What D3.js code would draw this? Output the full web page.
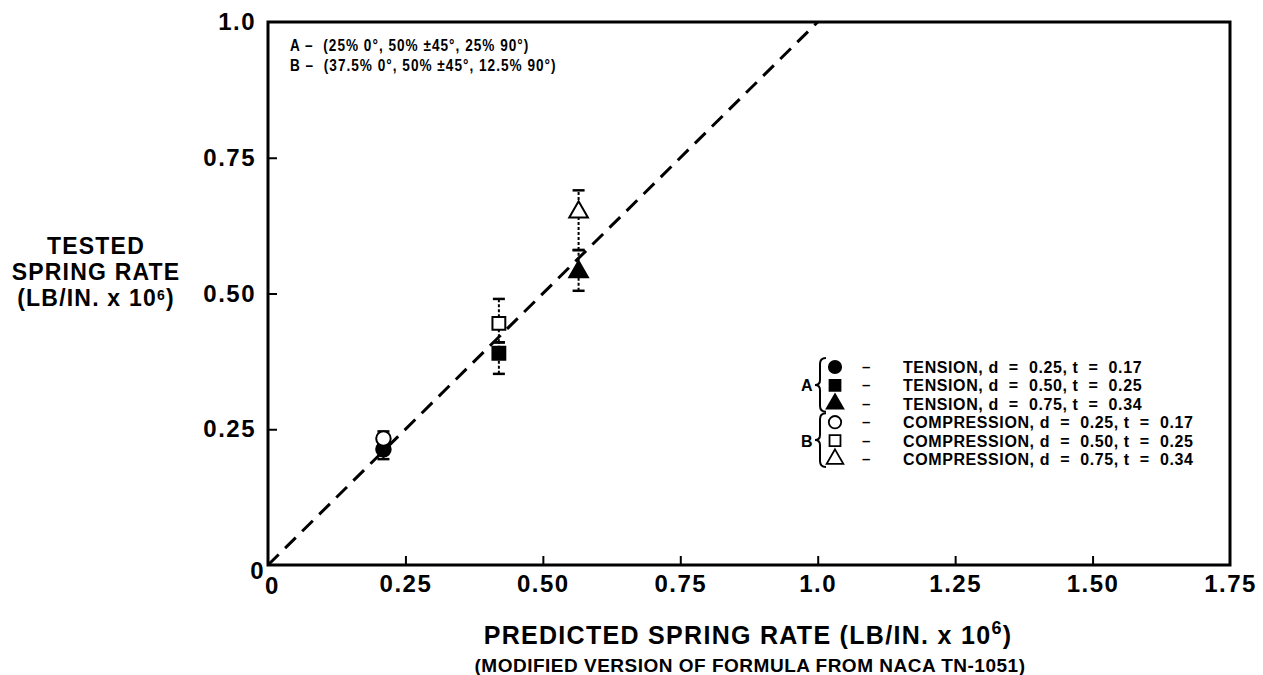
<!DOCTYPE html>
<html><head><meta charset="utf-8">
<script src="https://cdn.jsdelivr.net/npm/d3@7"></script>
<style>body{margin:0;background:#fff}svg{display:block}text{font-family:"Liberation Sans",Arial,sans-serif;font-weight:bold;fill:#000}</style>
</head><body>
<svg id="c" width="1263" height="675"></svg>
<script>
const xTicks = [0, 0.25, 0.5, 0.75, 1.0, 1.25, 1.5, 1.75];
const xTickLabels = ["0", "0.25", "0.50", "0.75", "1.0", "1.25", "1.50", "1.75"];
const yTicks = [0, 0.25, 0.5, 0.75, 1.0];
const yTickLabels = ["0", "0.25", "0.50", "0.75", "1.0"];
const seriesNames = ["A-tension-d0.25", "A-tension-d0.50", "A-tension-d0.75", "B-compression-d0.25", "B-compression-d0.50", "B-compression-d0.75"];
const seriesShapes = ["circle", "square", "triangle", "circle", "square", "triangle"];
const seriesFilled = [true, true, true, false, false, false];
const predicted = [0.21, 0.42, 0.565, 0.21, 0.42, 0.565];
const tested = [0.213, 0.39, 0.54, 0.233, 0.445, 0.65];
const errLow = [0.195, 0.352, 0.505, 0.225, 0.41, 0.58];
const errHigh = [0.225, 0.41, 0.58, 0.246, 0.49, 0.69];
const legendLabels = ["TENSION, d  =  0.25, t  =  0.17", "TENSION, d  =  0.50, t  =  0.25", "TENSION, d  =  0.75, t  =  0.34",
  "COMPRESSION, d  =  0.25, t  =  0.17", "COMPRESSION, d  =  0.50, t  =  0.25", "COMPRESSION, d  =  0.75, t  =  0.34"];
const notes = ["A \u2013  (25% 0\u00b0, 50% \u00b145\u00b0, 25% 90\u00b0)", "B \u2013  (37.5% 0\u00b0, 50% \u00b145\u00b0, 12.5% 90\u00b0)"];
const refLine = [[0, 0], [1.0, 1.0]];

const svg = d3.select("#c");
const x = d3.scaleLinear().domain([0, 1.75]).range([268, 1230]);
const y = d3.scaleLinear().domain([0, 1.0]).range([565, 22]);

// frame
svg.append("path")
  .attr("d", `M${x(0)},${y(0)}V${y(1)}H${x(1.75)}V${y(0)}Z`)
  .attr("fill", "none").attr("stroke", "#000").attr("stroke-width", 3);

// x axis
const gx = svg.append("g").attr("transform", `translate(0,${y(0)})`)
  .call(d3.axisBottom(x).tickValues(xTicks).tickSize(-9).tickPadding(14)
    .tickFormat((d, i) => xTickLabels[i]));
gx.select(".domain").remove();
gx.selectAll(".tick line").attr("stroke-width", 2).filter((d) => d === 0 || d === 1.75).remove();
gx.selectAll(".tick text").attr("font-size", 24).attr("letter-spacing", 1.5)
  .attr("font-family", "Liberation Sans, Arial, sans-serif").attr("font-weight", "bold")
  .attr("dy", "0.71em").attr("y", 10);
gx.selectAll(".tick").filter(d => d === 0).select("text").attr("dx", 4).attr("y", 12);

// y axis
const gy = svg.append("g").attr("transform", `translate(${x(0)},0)`)
  .call(d3.axisLeft(y).tickValues(yTicks).tickSize(-9).tickPadding(12)
    .tickFormat((d, i) => yTickLabels[i]));
gy.select(".domain").remove();
gy.selectAll(".tick line").attr("stroke-width", 2).filter((d) => d === 0 || d === 1).remove();
gy.selectAll(".tick text").attr("font-size", 24).attr("letter-spacing", 1.5)
  .attr("font-family", "Liberation Sans, Arial, sans-serif").attr("font-weight", "bold")
  .attr("x", -12);
gy.selectAll(".tick").filter(d => d === 0).select("text").attr("dy", "0.55em").attr("x", -3);

// dashed reference line
svg.append("path").datum(refLine)
  .attr("d", d3.line().x(d => x(d[0])).y(d => y(d[1])))
  .attr("stroke", "#000").attr("stroke-width", 3).attr("stroke-dasharray", "15,9").attr("fill", "none");

// error bars
const idx = d3.range(predicted.length);
svg.append("g").selectAll("line.eb").data(idx).join("line")
  .attr("x1", i => x(predicted[i])).attr("x2", i => x(predicted[i]))
  .attr("y1", i => y(errLow[i])).attr("y2", i => y(errHigh[i]))
  .attr("stroke", "#000").attr("stroke-width", 2).attr("stroke-dasharray", "3,2");
svg.append("g").selectAll("line.cap").data(idx.flatMap(i => [[i, errLow[i]], [i, errHigh[i]]])).join("line")
  .attr("x1", d => x(predicted[d[0]]) - 6).attr("x2", d => x(predicted[d[0]]) + 6)
  .attr("y1", d => y(d[1])).attr("y2", d => y(d[1]))
  .attr("stroke", "#000").attr("stroke-width", 2.5);

function symType(shape) {
  return shape === "circle" ? d3.symbolCircle : shape === "square" ? d3.symbolSquare : d3.symbolTriangle;
}
svg.append("g").selectAll("path.pt").data(idx).join("path")
  .attr("transform", i => `translate(${x(predicted[i])},${y(tested[i])})`)
  .attr("d", i => d3.symbol().type(symType(seriesShapes[i])).size(seriesShapes[i] === "triangle" ? 150 : 165)())
  .attr("fill", i => seriesFilled[i] ? "#000" : "#fff")
  .attr("stroke", "#000").attr("stroke-width", 2);

// notes (condensed)
svg.append("g").attr("transform", "translate(290,0) scale(0.85,1)")
  .selectAll("text").data(notes).join("text")
  .attr("x", 0).attr("y", (d, i) => 51 + i * 20).attr("font-size", 16).attr("letter-spacing", 1.2)
  .attr("xml:space", "preserve").style("white-space", "pre").text(d => d);

// legend
const lg = svg.append("g");
const rowY = i => 373 + i * 18.4;
lg.selectAll("path").data(idx).join("path")
  .attr("transform", i => `translate(835,${rowY(i) - 6})`)
  .attr("d", i => d3.symbol().type(symType(seriesShapes[i])).size(120)())
  .attr("fill", i => seriesFilled[i] ? "#000" : "#fff").attr("stroke", "#000").attr("stroke-width", 1.8);
lg.selectAll("text.dash").data(idx).join("text")
  .attr("x", 862).attr("y", i => rowY(i) - 1).attr("font-size", 15).text("\u2013");
lg.selectAll("text.lab").data(idx).join("text")
  .attr("x", 903).attr("y", rowY).attr("font-size", 16).attr("letter-spacing", 0.6).attr("xml:space", "preserve")
  .style("white-space", "pre").text(i => legendLabels[i]);
// braces
function brace(x0, y0, y1) {
  const m = (y0 + y1) / 2;
  return `M${x0 + 6},${y0} Q${x0},${y0} ${x0},${y0 + 6} V${m - 5} Q${x0},${m} ${x0 - 5},${m} Q${x0},${m} ${x0},${m + 5} V${y1 - 6} Q${x0},${y1} ${x0 + 6},${y1}`;
}
lg.append("path").attr("d", brace(820, rowY(0) - 15, rowY(2) + 2)).attr("fill", "none").attr("stroke", "#000").attr("stroke-width", 2);
lg.append("path").attr("d", brace(820, rowY(3) - 15, rowY(5) + 2)).attr("fill", "none").attr("stroke", "#000").attr("stroke-width", 2);
lg.append("text").attr("x", 801).attr("y", rowY(1)).attr("font-size", 16).text("A");
lg.append("text").attr("x", 801).attr("y", rowY(4)).attr("font-size", 16).text("B");

// y axis title
const yt = svg.append("g").attr("font-size", 23).attr("letter-spacing", 1.2).attr("text-anchor", "middle");
yt.append("text").attr("x", 96).attr("y", 254).text("TESTED");
yt.append("text").attr("x", 96).attr("y", 280).text("SPRING RATE");
const y3 = yt.append("text").attr("x", 96).attr("y", 306);
y3.append("tspan").text("(LB/IN. x 10");
y3.append("tspan").attr("dy", -6).attr("font-size", 14).text("6");
y3.append("tspan").attr("dy", 6).text(")");

// x axis title
const xt = svg.append("text").attr("x", 748).attr("y", 644).attr("font-size", 25).attr("letter-spacing", 1.3).attr("text-anchor", "middle");
xt.append("tspan").text("PREDICTED SPRING RATE (LB/IN. x 10");
xt.append("tspan").attr("dy", -10).attr("font-size", 18).text("6");
xt.append("tspan").attr("dy", 10).text(")");
svg.append("text").attr("x", 750).attr("y", 672).attr("font-size", 19).attr("letter-spacing", 0.5).attr("text-anchor", "middle")
  .text("(MODIFIED VERSION OF FORMULA FROM NACA TN-1051)");
</script>
</body></html>
